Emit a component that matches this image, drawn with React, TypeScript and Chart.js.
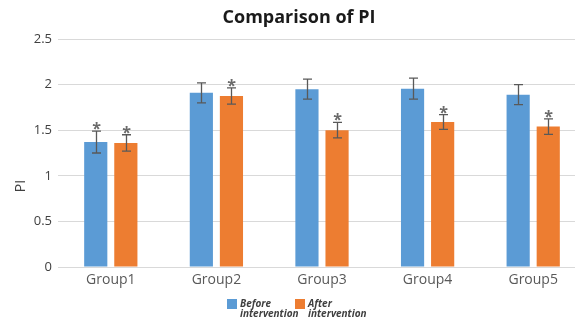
import React, { useEffect, useRef } from "react";
import { Chart, registerables } from "chart.js";

Chart.register(...registerables);

const groups = ["Group1", "Group2", "Group3", "Group4", "Group5"];
const beforeValues = [1.37, 1.91, 1.95, 1.955, 1.89];
const beforeErrors = [0.12, 0.11, 0.11, 0.115, 0.11];
const afterValues = [1.36, 1.875, 1.5, 1.59, 1.54];
const afterErrors = [0.09, 0.09, 0.085, 0.08, 0.085];
const beforeStars = [true, false, false, false, false];
const afterStars = [true, true, true, true, true];
const yTicks = [0, 0.5, 1, 1.5, 2, 2.5];
const beforeName = ["Before", "intervention"];
const afterName = ["After", "intervention"];
const chartTitle = "Comparison of PI";
const yTitle = "PI";

const FONT = "'Open Sans', 'Noto Sans', sans-serif";
const BLUE = "#5B9BD5";
const ORANGE = "#ED7D31";
const INK = "#404040";
const WHISKER = "#595959";

// Whiskers and significance marks on top of each bar
const errorBarPlugin = {
  id: "errorBars",
  afterDatasetsDraw(chart: any) {
    const { ctx } = chart;
    const y = chart.scales.y;
    chart.data.datasets.forEach((ds: any, i: number) => {
      const meta = chart.getDatasetMeta(i);
      meta.data.forEach((bar: any, j: number) => {
        const v = ds.data[j];
        const e = ds.errors[j];
        const top = y.getPixelForValue(v + e);
        const bot = y.getPixelForValue(v - e);
        const x = Math.round(bar.x) + 0.5;
        ctx.save();
        ctx.strokeStyle = WHISKER;
        ctx.lineWidth = 1.3;
        ctx.beginPath();
        ctx.moveTo(x, top);
        ctx.lineTo(x, bot);
        ctx.moveTo(x - 4.5, top);
        ctx.lineTo(x + 4.5, top);
        ctx.moveTo(x - 4.5, bot);
        ctx.lineTo(x + 4.5, bot);
        ctx.stroke();
        if (ds.stars[j]) {
          ctx.fillStyle = "#6b6b6b";
          ctx.font = `bold 16px ${FONT}`;
          ctx.textAlign = "center";
          ctx.textBaseline = "alphabetic";
          ctx.fillText("*", x, top + 3);
        }
        ctx.restore();
      });
    });
  },
};

// Title, rotated axis name and two-line legend
const decorPlugin = {
  id: "decor",
  afterDraw(chart: any) {
    const { ctx } = chart;
    ctx.save();
    ctx.fillStyle = "#1a1a1a";
    ctx.font = `bold 18px ${FONT}`;
    ctx.textAlign = "center";
    ctx.textBaseline = "middle";
    ctx.fillText(chartTitle, 299, 18);

    ctx.fillStyle = INK;
    ctx.font = `14px ${FONT}`;
    ctx.translate(21, 186);
    ctx.rotate(-Math.PI / 2);
    ctx.fillText(yTitle, 0, 0);
    ctx.restore();

    const items = [
      { color: chart.data.datasets[0].backgroundColor, lines: beforeName, x: 227 },
      { color: chart.data.datasets[1].backgroundColor, lines: afterName, x: 295 },
    ];
    ctx.save();
    items.forEach((it) => {
      ctx.fillStyle = it.color;
      ctx.fillRect(it.x, 299, 10, 10);
      ctx.fillStyle = INK;
      ctx.font = `italic bold 10px ${FONT}`;
      ctx.textAlign = "left";
      ctx.textBaseline = "middle";
      ctx.fillText(it.lines[0], it.x + 13, 304);
      ctx.fillText(it.lines[1], it.x + 13, 314);
    });
    ctx.restore();
  },
};

export default function App() {
  const ref = useRef<HTMLCanvasElement>(null);

  useEffect(() => {
    if (!ref.current) return;
    const chart = new Chart(ref.current, {
      type: "bar",
      data: {
        labels: groups,
        datasets: [
          {
            label: beforeName.join(" "),
            data: beforeValues,
            backgroundColor: BLUE,
            errors: beforeErrors,
            stars: beforeStars,
            categoryPercentage: 0.57,
            barPercentage: 0.77,
          } as any,
          {
            label: afterName.join(" "),
            data: afterValues,
            backgroundColor: ORANGE,
            errors: afterErrors,
            stars: afterStars,
            categoryPercentage: 0.57,
            barPercentage: 0.77,
          } as any,
        ],
      },
      options: {
        responsive: false,
        animation: false,
        devicePixelRatio: 1,
        layout: { padding: { top: 39, right: 4, left: 0, bottom: 0 } },
        plugins: {
          legend: { display: false },
          title: { display: false },
          tooltip: { enabled: false },
        },
        scales: {
          x: {
            grid: { display: false },
            border: { display: true, color: "#d9d9d9" },
            ticks: {
              color: "#595959",
              font: { family: FONT, size: 14 },
              padding: -3,
            },
            afterFit(scale: any) {
              scale.height = 53;
            },
          },
          y: {
            min: 0,
            max: 2.5,
            grid: { color: "#d9d9d9", drawTicks: false },
            border: { display: false },
            afterBuildTicks(scale: any) {
              scale.ticks = yTicks.map((v) => ({ value: v }));
            },
            ticks: {
              color: INK,
              font: { family: FONT, size: 13 },
              padding: 6,
              callback: (v: any) => String(v),
            },
            afterFit(scale: any) {
              scale.width = 58;
            },
          },
        },
      },
      plugins: [errorBarPlugin, decorPlugin],
    });
    return () => chart.destroy();
  }, []);

  return (
    <div style={{ position: "fixed", left: 0, top: 0, width: 590, height: 320, background: "#fff" }}>
      <canvas ref={ref} width={590} height={320} />
    </div>
  );
}
